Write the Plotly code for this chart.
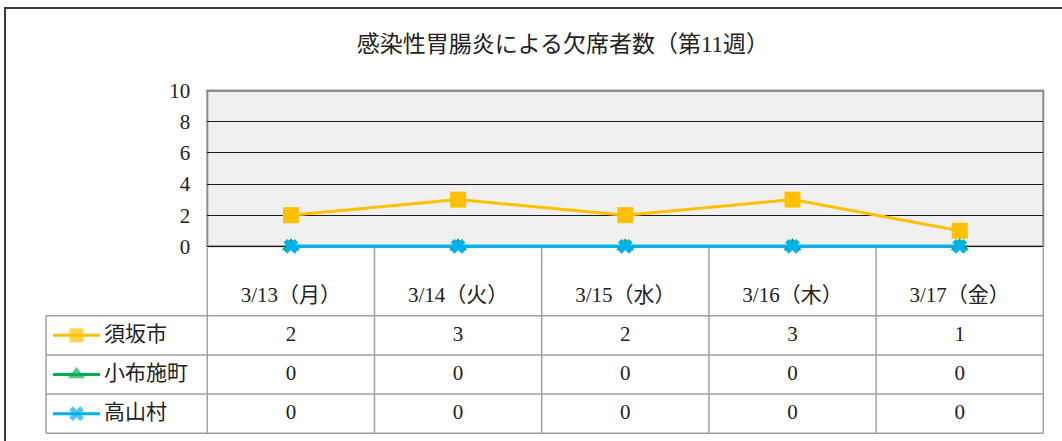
import plotly.graph_objects as go

# ---------------- data ----------------
title_text = "感染性胃腸炎による欠席者数（第11週）"
categories = ["3/13（月）", "3/14（火）", "3/15（水）", "3/16（木）", "3/17（金）"]
series_names = ["須坂市", "小布施町", "高山村"]
suzaka = [2, 3, 2, 3, 1]
obuse = [0, 0, 0, 0, 0]
takayama = [0, 0, 0, 0, 0]
y_ticks = [0, 2, 4, 6, 8, 10]
Y_MIN, Y_MAX = 0, 10

series_values = [suzaka, obuse, takayama]
series_colors = ["#FFC000", "#00B050", "#00B0F0"]
series_symbols = ["square", "triangle-up", "x"]
series_sizes = [16, 16, 13]
series_line_widths = [3, 3, 3]
key_sizes = [14, 15, 13]

# ---------------- layout constants (pixels) ----------------
W, H = 1062, 441
PLOT_L, PLOT_R, PLOT_T, PLOT_B = 207.3, 1043.3, 90.7, 246.3
TABLE_L, TABLE_B = 46.0, 433.3
ROW_TOP0 = 315.7
ROW_H = 39.2
HEADER_Y = 296.5
KEY_X0, KEY_XM, KEY_X1, LABEL_X = 53.0, 76.5, 100.0, 104.0
YPAD = 0.4  # extra axis room so lines at 0 are not clipped

SERIF = "Liberation Serif, Noto Sans CJK JP, serif"
TXT = "#222222"
GRID_TABLE = "#a0a0a0"
BORDER = "#8c8c8c"

n = len(categories)
unit = (PLOT_R - PLOT_L) / n
ppu = (PLOT_B - PLOT_T) / (Y_MAX - Y_MIN)
dom_top_px = PLOT_T - YPAD * ppu
dom_bot_px = PLOT_B + YPAD * ppu


def px2x(px):
    return (px - PLOT_L) / unit - 0.5


def px2y(py):
    return (py - ROW_TOP0) / ROW_H - 0.5


fig = go.Figure()

# ---------------- main chart ----------------
for name, vals, col, sym, sz, lw in zip(series_names, series_values, series_colors,
                                        series_symbols, series_sizes, series_line_widths):
    fig.add_trace(go.Scatter(
        x=list(range(n)), y=vals, name=name, mode="lines+markers",
        line=dict(color=col, width=lw),
        marker=dict(symbol=sym, size=sz, color=col, line=dict(width=0)),
        cliponaxis=False, showlegend=False, xaxis="x", yaxis="y",
    ))

# ---------------- data table (on full-figure helper axes) ----------------
fig.add_trace(go.Scatter(
    x=list(range(n)), y=[px2y(HEADER_Y)] * n, text=categories, mode="text",
    textfont=dict(family=SERIF, size=21, color=TXT), textposition="middle center",
    showlegend=False, hoverinfo="skip", xaxis="x2", yaxis="y2", cliponaxis=False,
))
for k, (name, vals, col, sym, ks) in enumerate(zip(series_names, series_values, series_colors,
                                                   series_symbols, key_sizes)):
    fig.add_trace(go.Scatter(
        x=list(range(n)), y=[k] * n, text=[str(v) for v in vals], mode="text",
        textfont=dict(family=SERIF, size=21, color=TXT), textposition="middle center",
        showlegend=False, hoverinfo="skip", xaxis="x2", yaxis="y2", cliponaxis=False,
    ))
    fig.add_trace(go.Scatter(
        x=[px2x(KEY_X0), px2x(KEY_XM), px2x(KEY_X1)], y=[k, k, k],
        mode="lines+markers", line=dict(color=col, width=3),
        marker=dict(symbol=sym, size=[0, ks, 0], color=col, line=dict(width=0)),
        showlegend=False, hoverinfo="skip", xaxis="x2", yaxis="y2", cliponaxis=False,
    ))
    fig.add_trace(go.Scatter(
        x=[px2x(LABEL_X)], y=[k], text=[name], mode="text",
        textfont=dict(family=SERIF, size=21, color=TXT), textposition="middle right",
        showlegend=False, hoverinfo="skip", xaxis="x2", yaxis="y2", cliponaxis=False,
    ))

shapes = []
# plot area background + border (below gridlines and traces)
shapes.append(dict(type="rect", xref="x domain", yref="y", x0=0, x1=1, y0=Y_MIN, y1=Y_MAX,
                   fillcolor="#f0f0f0", line=dict(color=BORDER, width=2), layer="below"))
# gray top edge over the top gridline
shapes.append(dict(type="line", xref="x domain", yref="y", x0=0, x1=1, y0=Y_MAX, y1=Y_MAX,
                   line=dict(color=BORDER, width=2), layer="above"))
row_lines = [ROW_TOP0 + i * ROW_H for i in range(len(series_names) + 1)]
for py in row_lines:
    shapes.append(dict(type="line", xref="x2", yref="y2",
                       x0=px2x(TABLE_L), x1=n - 0.5, y0=px2y(py), y1=px2y(py),
                       line=dict(color=GRID_TABLE, width=1.5)))
for i in range(n + 1):
    shapes.append(dict(type="line", xref="x2", yref="y2",
                       x0=i - 0.5, x1=i - 0.5, y0=px2y(PLOT_B + 1.5), y1=px2y(TABLE_B),
                       line=dict(color=GRID_TABLE, width=1.5)))
shapes.append(dict(type="line", xref="x2", yref="y2",
                   x0=px2x(TABLE_L), x1=px2x(TABLE_L), y0=px2y(ROW_TOP0), y1=px2y(TABLE_B),
                   line=dict(color=GRID_TABLE, width=1.5)))
shapes.append(dict(type="rect", xref="paper", yref="paper",
                   x0=5 / W, x1=1.2, y0=1 - 8 / H, y1=-0.2,
                   line=dict(color="#3a3a3a", width=2), fillcolor="rgba(0,0,0,0)"))

fig.update_layout(
    width=W, height=H, autosize=False,
    margin=dict(l=0, r=0, t=0, b=0, autoexpand=False),
    paper_bgcolor="white", plot_bgcolor="rgba(0,0,0,0)",
    font=dict(family=SERIF, color=TXT),
    title=dict(text=title_text, x=0.53, xanchor="center", y=1 - 44 / H, yanchor="middle",
               font=dict(family=SERIF, size=23, color=TXT), automargin=False),
    xaxis=dict(domain=[PLOT_L / W, PLOT_R / W], range=[-0.5, n - 0.5],
               showticklabels=False, showgrid=False, zeroline=False, ticks="",
               showline=False, fixedrange=True, anchor="y", automargin=False),
    yaxis=dict(domain=[1 - dom_bot_px / H, 1 - dom_top_px / H],
               range=[Y_MIN - YPAD, Y_MAX + YPAD],
               tickvals=y_ticks, ticktext=[str(t) for t in y_ticks],
               tickfont=dict(family=SERIF, size=21, color=TXT),
               showgrid=True, gridcolor="#1a1a1a", gridwidth=1,
               zeroline=False, ticks="", ticklabelstandoff=16,
               showline=False, fixedrange=True, anchor="x", automargin=False),
    xaxis2=dict(domain=[0, 1], range=[px2x(0), px2x(W)], visible=False,
                fixedrange=True, anchor="y2", automargin=False),
    yaxis2=dict(domain=[0, 1], range=[px2y(H), px2y(0)], visible=False,
                fixedrange=True, anchor="x2", automargin=False),
    shapes=shapes,
)

fig.write_html(
    "out.html",
    config={"displayModeBar": False, "responsive": False},
    post_script="document.body.style.margin='0';document.body.style.overflow='hidden';",
)
